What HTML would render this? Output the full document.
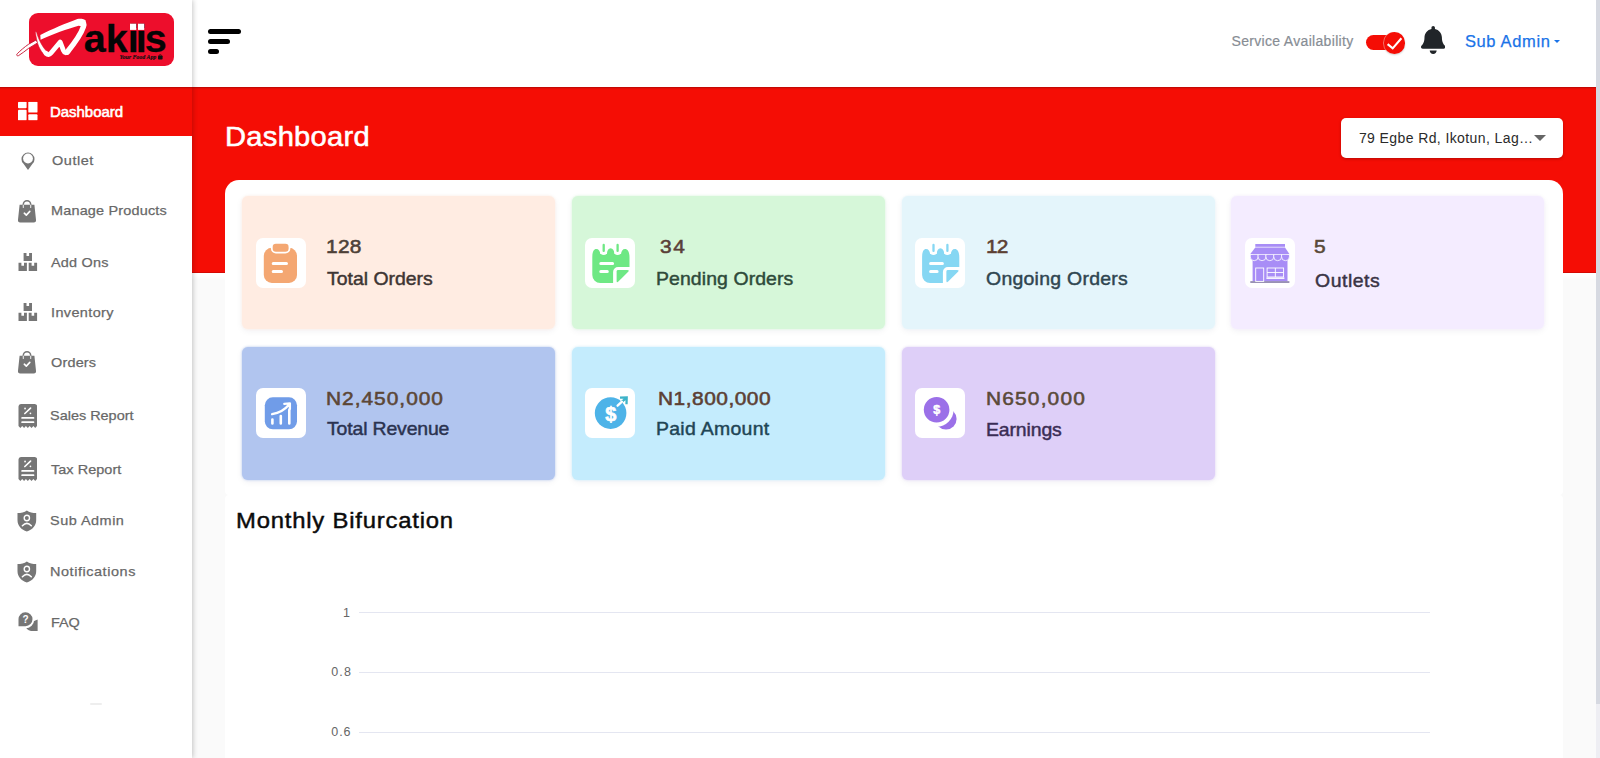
<!DOCTYPE html>
<html lang="en">
<head>
<meta charset="utf-8">
<title>Dashboard</title>
<style>
*{box-sizing:border-box;margin:0;padding:0}
html,body{width:1600px;height:758px;overflow:hidden;background:#fafafa;font-family:"Liberation Sans",sans-serif;color:#333}
#app{position:relative;width:1600px;height:758px;overflow:hidden}
.abs{position:absolute}
/* right scrollbar strip */
#sb{left:1596px;top:0;width:4px;height:758px;background:linear-gradient(#d6d9e1 0,#d6d9e1 704px,#eeeef3 704px)}
/* header */
#hdr{left:192px;top:0;width:1404px;height:87px;background:#fff}
/* red banner */
#red{left:192px;top:87px;width:1404px;height:186px;background:#f50d05;box-shadow:inset 0 -1px 0 rgba(120,0,0,.25),0 3px 3px 2px #fff}
/* sidebar */
#side{left:0;top:0;width:192px;height:758px;background:#fff;box-shadow:1px 0 5px rgba(0,0,0,.22)}
#logo{left:28.500px;top:12.500px;width:145px;height:53.500px;border-radius:9px;background:#ed0e2c}
.mi{position:absolute;left:0;width:192px;height:50px;color:#686868;font-size:14.5px}
.mi .t{position:absolute;font-size:13.500px;-webkit-text-stroke:.25px currentColor;transform-origin:0 50%;transform:scaleX(1.07)}
.mi svg{position:absolute;top:50%;transform:translateY(-50%)}
.mi.act{background:#f50d05;color:#fff;height:49px}
.mi.act .t{font-size:14px;-webkit-text-stroke:.55px #fff}
/* hamburger */
.bar{position:absolute;left:208px;height:5px;border-radius:3px;background:#000}
/* title */
#title{font-size:28px;color:#fff;-webkit-text-stroke:.55px #fff;transform-origin:0 50%;transform:scaleX(1.04)}
#sel{left:1341px;top:118px;width:222px;height:40px;background:#fff;border-radius:5px;box-shadow:0 1px 3px rgba(0,0,0,.25)}
#sel i{position:absolute;left:193px;top:17px;width:0;height:0;border-left:6px solid transparent;border-right:6px solid transparent;border-top:6px solid #666}
/* cards */
#stats{left:225px;top:180px;width:1338px;height:314.500px;background:#fff;border-radius:14px 14px 4px 4px}
#chart{left:225px;top:495px;width:1338px;height:270px;background:#fff;border-radius:4px}
.tile{position:absolute;width:313px;height:133px;border-radius:6px;box-shadow:0 2px 7px rgba(40,0,60,.06)}
.ic{width:50px;height:50px;border-radius:7px;background:#fff}
.ic svg{display:block}
#ct{font-size:22.500px;color:#0b0b0b;-webkit-text-stroke:.45px #0b0b0b;transform-origin:0 50%;transform:scaleX(1.06)}
.gl{position:absolute;left:359px;width:1070.500px;height:1px;background:#e4e6f1}
.yl{font-size:12.500px;color:#666}
.tx{white-space:nowrap;line-height:1;left:0;top:0}
#sa{font-size:14px;color:#878d94;-webkit-text-stroke:.2px #878d94}
#su{font-size:16.500px;color:#1a73e8;-webkit-text-stroke:.25px #1a73e8}
#selt{font-size:14px;color:#2a2a2a}
.n{font-size:19px;-webkit-text-stroke:.55px currentColor;transform-origin:0 50%;transform:scaleX(1.1)}
.l{font-size:18.500px;-webkit-text-stroke:.45px currentColor;transform-origin:0 50%;transform:scaleX(1.05)}
#n1{color:#4e4038}#l1{color:#3d3533}
#n2{color:#5a4038}#l2{color:#2e4a3a}
#n3{color:#5c4033}#l3{color:#2f4550}
#n4{color:#5a4a38}#l4{color:#3a3445}
#n5{color:#5c4736}#l5{color:#2b3350}
#n6{color:#5c4033}#l6{color:#1f4555}
#n7{color:#5a4a38}#l7{color:#3a2d55}
/*FIT*/
#sa{left:1231.6px;top:34.1px;letter-spacing:0.31px}
#su{left:1464.9px;top:32.6px;letter-spacing:0.65px}
#title{left:225.0px;top:123.4px;letter-spacing:0.27px}
#selt{left:1358.9px;top:131.2px;letter-spacing:0.40px}
#n1{left:326.0px;top:236.9px;letter-spacing:0.23px}
#l1{left:327.0px;top:270.3px;letter-spacing:0.00px}
#n2{left:659.6px;top:236.9px;letter-spacing:1.39px}
#l2{left:656.4px;top:270.4px;letter-spacing:0.09px}
#n3{left:986.0px;top:236.9px;letter-spacing:-0.71px}
#l3{left:986.2px;top:270.4px;letter-spacing:0.26px}
#n4{left:1314.4px;top:236.9px;letter-spacing:0.00px}
#l4{left:1315.1px;top:271.5px;letter-spacing:0.51px}
#n5{left:326.4px;top:388.9px;letter-spacing:0.90px}
#l5{left:327.0px;top:420.3px;letter-spacing:-0.14px}
#n6{left:658.4px;top:388.9px;letter-spacing:0.46px}
#l6{left:656.4px;top:420.4px;letter-spacing:0.29px}
#n7{left:986.4px;top:388.9px;letter-spacing:1.06px}
#l7{left:986.4px;top:420.6px;letter-spacing:-0.12px}
#ct{left:235.7px;top:510.3px;letter-spacing:0.75px}
#y1{left:343.0px;top:607.1px;letter-spacing:0.00px}
#y2{left:331.3px;top:666.2px;letter-spacing:1.09px}
#y3{left:331.3px;top:726.2px;letter-spacing:0.90px}
#m1{left:50.0px;top:17.7px;letter-spacing:-0.03px}
#m2{left:51.8px;top:17.8px;letter-spacing:0.53px}
#m3{left:51.0px;top:16.9px;letter-spacing:0.17px}
#m4{left:51.0px;top:18.7px;letter-spacing:0.18px}
#m5{left:51.0px;top:18.9px;letter-spacing:0.36px}
#m6{left:50.8px;top:17.9px;letter-spacing:0.17px}
#m7{left:50.0px;top:17.8px;letter-spacing:0.00px}
#m8{left:51.0px;top:18.8px;letter-spacing:0.05px}
#m9{left:50.0px;top:18.0px;letter-spacing:0.47px}
#m10{left:50.0px;top:17.9px;letter-spacing:0.52px}
#m11{left:51.0px;top:18.8px;letter-spacing:-0.03px}
/*ENDFIT*/
</style>
</head>
<body>
<div id="app">
  <div id="hdr" class="abs"></div>
  <div id="red" class="abs"></div>
  <div id="sb" class="abs"></div>
  <div class="abs" style="left:192px;top:80px;width:12px;height:7px;background:#fff"></div>

  <!-- header content -->
  <div class="bar" style="top:29px;width:33px"></div>
  <div class="bar" style="top:39px;width:22px"></div>
  <div class="bar" style="top:49px;width:11px"></div>

  <div id="sa" class="abs tx">Service Availability</div>
  <div class="abs" style="left:1365.500px;top:35.200px;width:36px;height:15px;border-radius:7.500px;background:#f50d05"></div>
  <div class="abs" style="left:1383.500px;top:32px;width:21.800px;height:22px;border-radius:50%;background:#f50d05;box-shadow:-1px 0 0 rgba(255,190,180,.55),0 1px 2px rgba(0,0,0,.2)">
    <svg width="22" height="22" viewBox="0 0 22 22" style="display:block"><path d="M3.600 12.100 L8.700 16.400 L17.400 6.300" fill="none" stroke="#fff" stroke-width="2.100" stroke-linecap="butt" stroke-linejoin="miter"/></svg>
  </div>
  <svg class="abs" style="left:1420.800px;top:25.800px" width="24.400" height="27.900" viewBox="0 0 448 512"><path d="M224 512c35.320 0 63.970-28.650 63.970-64H160.030c0 35.350 28.650 64 63.970 64zm215.390-149.710c-19.320-20.760-55.470-51.990-55.470-154.290 0-77.700-54.480-139.900-127.940-155.160V32c0-17.670-14.320-32-31.980-32s-31.980 14.330-31.980 32v20.840C118.560 68.100 64.080 130.300 64.080 208c0 102.300-36.150 133.530-55.470 154.290-6 6.450-8.660 14.160-8.610 21.710.110 16.400 12.980 32 32.100 32h383.800c19.120 0 32-15.600 32.100-32 .050-7.550-2.610-15.270-8.610-21.710z" fill="#212529"/></svg>
  <div id="su" class="abs tx">Sub Admin</div>
  <div class="abs caret" style="left:1553.500px;top:40px;width:0;height:0;border-left:3.500px solid transparent;border-right:3.500px solid transparent;border-top:3.800px solid #1a73e8"></div>

  <div id="title" class="abs tx">Dashboard</div>
  <div id="sel" class="abs"><i></i></div>
  <div id="selt" class="abs tx">79 Egbe Rd, Ikotun, Lag…</div>

  <div id="stats" class="abs"></div>
  <div id="chart" class="abs"></div>

  <!-- tiles -->
  <div class="tile" style="left:241.500px;top:196px;background:#ffece2;box-shadow:0 0 2.500px #ffece2,0 2px 7px rgba(40,0,60,.06)"></div><div class="ic abs" style="left:256px;top:238px"><svg width="50" height="50" viewBox="0.2 -0.4 50 50"><rect x="8" y="9.400" width="33.200" height="35.100" rx="8" fill="#f4a772"/><rect x="15.100" y="3.600" width="19.500" height="11.500" rx="5" fill="#fff"/><rect x="16.900" y="5.400" width="15.900" height="7.900" rx="3.200" fill="#f4a772"/><path d="M17.400 25.100 H30.700 M17.400 33.100 H25.700" stroke="#fff" stroke-width="3" stroke-linecap="round"/></svg></div>
  <div id="n1" class="abs tx n">128</div><div id="l1" class="abs tx l">Total Orders</div>
  <div class="tile" style="left:571.500px;top:196px;background:#d6f7d9;box-shadow:0 0 2.500px #d6f7d9,0 2px 7px rgba(40,0,60,.06)"></div><div class="ic abs" style="left:585px;top:238px"><svg width="50" height="50" viewBox="-0.4 -0.4 50 50"><path d="M6.900 19 C6.900 13.500 8.300 10.700 10.900 10.700 C13.300 10.700 14.600 12.800 14.900 15.500 L21.500 15.500 C21.800 12 23 9.900 25.200 9.900 C27.400 9.900 28.800 12 29.100 15.500 L35.600 15.500 C36 12.800 37.200 10.700 39.600 10.700 C42.300 10.700 44.100 13.500 44.100 19 V28.700 H32.700 A5 5 0 0 0 27.700 33.700 V44.600 H15 A8 8 0 0 1 6.900 36.500 Z" fill="#6ee884"/><path d="M32.700 31.600 H42 Q44.400 31.600 42.800 33.400 L33 43.200 Q31.200 44.800 31.200 42.500 V33 Q31.200 31.600 32.700 31.600z" fill="#6ee884"/><path d="M18.300 7 V13.300 M32.200 7 V13.300" stroke="#fff" stroke-width="6.600" stroke-linecap="round"/><path d="M18.300 6.600 V12.500 M32.200 6.600 V12.500" stroke="#6ee884" stroke-width="2.300" stroke-linecap="round"/><path d="M15.400 25.100 H27.200 M15.400 33.100 H21.900" stroke="#fff" stroke-width="3" stroke-linecap="round"/></svg></div>
  <div id="n2" class="abs tx n">34</div><div id="l2" class="abs tx l">Pending Orders</div>
  <div class="tile" style="left:901.500px;top:196px;background:#e4f5fb;box-shadow:0 0 2.500px #e4f5fb,0 2px 7px rgba(40,0,60,.06)"></div><div class="ic abs" style="left:915px;top:238px"><svg width="50" height="50" viewBox="-0.2 -0.4 50 50"><path d="M6.900 19 C6.900 13.500 8.300 10.700 10.900 10.700 C13.300 10.700 14.600 12.800 14.900 15.500 L21.500 15.500 C21.800 12 23 9.900 25.200 9.900 C27.400 9.900 28.800 12 29.100 15.500 L35.600 15.500 C36 12.800 37.200 10.700 39.600 10.700 C42.300 10.700 44.100 13.500 44.100 19 V28.700 H32.700 A5 5 0 0 0 27.700 33.700 V44.600 H15 A8 8 0 0 1 6.900 36.500 Z" fill="#86d7f3"/><path d="M32.700 31.600 H42 Q44.400 31.600 42.800 33.400 L33 43.200 Q31.200 44.800 31.200 42.500 V33 Q31.200 31.600 32.700 31.600z" fill="#86d7f3"/><path d="M18.300 7 V13.300 M32.200 7 V13.300" stroke="#fff" stroke-width="6.600" stroke-linecap="round"/><path d="M18.300 6.600 V12.500 M32.200 6.600 V12.500" stroke="#86d7f3" stroke-width="2.300" stroke-linecap="round"/><path d="M15.400 25.100 H27.200 M15.400 33.100 H21.900" stroke="#fff" stroke-width="3" stroke-linecap="round"/></svg></div>
  <div id="n3" class="abs tx n">12</div><div id="l3" class="abs tx l">Ongoing Orders</div>
  <div class="tile" style="left:1231px;top:196px;background:#f4ecff;box-shadow:0 0 2.500px #f4ecff,0 2px 7px rgba(40,0,60,.06)"></div><div class="ic abs" style="left:1245px;top:238px"><svg width="50" height="50" viewBox="0.1 -0.4 50 50"><rect x="10.400" y="5.600" width="29.700" height="2.800" fill="#a88df6"/><rect x="7.700" y="15" width="34.900" height="28" fill="#a88df6"/><path d="M5.40 16 h7.82 v2.400 a3.910 3.900 0 0 1 -7.820 0z" fill="#a88df6" stroke="#fff" stroke-width="0.800"/><path d="M13.22 16 h7.82 v2.400 a3.910 3.900 0 0 1 -7.820 0z" fill="#a88df6" stroke="#fff" stroke-width="0.800"/><path d="M21.04 16 h7.82 v2.400 a3.910 3.900 0 0 1 -7.820 0z" fill="#a88df6" stroke="#fff" stroke-width="0.800"/><path d="M28.86 16 h7.82 v2.400 a3.910 3.900 0 0 1 -7.820 0z" fill="#a88df6" stroke="#fff" stroke-width="0.800"/><path d="M36.68 16 h7.82 v2.400 a3.910 3.900 0 0 1 -7.820 0z" fill="#a88df6" stroke="#fff" stroke-width="0.800"/><path d="M10.400 9.200 H40.100 L44.500 15.600 H5.400z" fill="#a88df6"/><rect x="5.400" y="42.800" width="39.100" height="1.700" fill="#8e86ac"/><rect x="10.800" y="29.600" width="8" height="13.400" fill="none" stroke="#fff" stroke-width="0.900"/><rect x="22.200" y="29.600" width="16.500" height="9" fill="none" stroke="#fff" stroke-width="0.900"/><path d="M30.450 29.600 v9 M22.200 34.100 h16.500" stroke="#fff" stroke-width="0.900"/><path d="M21.500 39.800 h18" stroke="#fff" stroke-width="1.400"/></svg></div>
  <div id="n4" class="abs tx n">5</div><div id="l4" class="abs tx l">Outlets</div>
  <div class="tile" style="left:241.500px;top:347px;background:#b1c5ef;box-shadow:0 0 2.500px #b1c5ef,0 2px 7px rgba(40,0,60,.06)"></div><div class="ic abs" style="left:256px;top:388px"><svg width="50" height="50" viewBox="0.3 0.1 50 50"><rect x="9.100" y="9.400" width="32.200" height="32" rx="8" fill="#709ce8"/><path d="M16.700 31.600 V35.600 M25.100 28.200 V35.600 M33.600 22 V35.600" stroke="#fff" stroke-width="2.600" stroke-linecap="round"/><path d="M16.400 26.300 Q27 24.500 33.400 16.600 M28.600 15.900 L34.200 15.500 L34.200 21.200" fill="none" stroke="#fff" stroke-width="2.300" stroke-linecap="round" stroke-linejoin="round"/></svg></div>
  <div id="n5" class="abs tx n">N2,450,000</div><div id="l5" class="abs tx l">Total Revenue</div>
  <div class="tile" style="left:571.500px;top:347px;background:#c4ecfd;box-shadow:0 0 2.500px #c4ecfd,0 2px 7px rgba(40,0,60,.06)"></div><div class="ic abs" style="left:585px;top:388px"><svg width="50" height="50" viewBox="-0.4 0 50 50"><circle cx="25.200" cy="25.100" r="15.800" fill="#4db3e8"/><path d="M36 14.200 L41 9.800 M34.600 9.600 L41.300 9.400 L41.100 16.200" fill="none" stroke="#3db3c9" stroke-width="2.300" stroke-linecap="butt" stroke-linejoin="miter"/><path d="M32.200 17.700 L36.600 13.700" stroke="#fff" stroke-width="2.300" stroke-linecap="round"/><text x="25.300" y="32.500" text-anchor="middle" font-family="Liberation Sans, sans-serif" font-weight="bold" font-size="20" fill="#fff" stroke="#fff" stroke-width="0.600">$</text></svg></div>
  <div id="n6" class="abs tx n">N1,800,000</div><div id="l6" class="abs tx l">Paid Amount</div>
  <div class="tile" style="left:901.500px;top:347px;background:#decff8;box-shadow:0 0 2.500px #decff8,0 2px 7px rgba(40,0,60,.06)"></div><div class="ic abs" style="left:915px;top:388px"><svg width="50" height="50" viewBox="0 0 50 50"><circle cx="31" cy="31" r="10.600" fill="#9b70e8"/><circle cx="21.600" cy="21.800" r="17" fill="#fff"/><circle cx="21.600" cy="21.800" r="12.800" fill="#9b70e8"/><text x="21.700" y="26.200" text-anchor="middle" font-family="Liberation Sans, sans-serif" font-weight="bold" font-size="12.500" fill="#fff" stroke="#fff" stroke-width="0.500">$</text></svg></div>
  <div id="n7" class="abs tx n">N650,000</div><div id="l7" class="abs tx l">Earnings</div>

  <!-- chart -->
  <div id="ct" class="abs tx">Monthly Bifurcation</div>
  <div class="gl" style="top:612px"></div>
  <div class="gl" style="top:672px"></div>
  <div class="gl" style="top:732px"></div>
  <div id="y1" class="abs tx yl">1</div>
  <div id="y2" class="abs tx yl">0.8</div>
  <div id="y3" class="abs tx yl">0.6</div>

  <!-- sidebar -->
  <div id="side" class="abs">
    <div id="logo" class="abs"></div>
    <svg class="abs" style="left:0;top:0" width="192" height="87" viewBox="0 0 192 87">
      <path d="M36.200 39.900 L28.500 44.300 C24.500 47 20.500 50.500 17.300 53.700 C16 55 17 56.300 18.600 55.600 C22 53.600 25.500 50.600 28.500 48.400 L37.600 42.900 Z" fill="#fff" stroke="#c4102c" stroke-width="0.900"/>
      <path d="M85.900 20.800 C84 18.700 80 18.500 77.400 19.100 C66 23.200 52 29.300 40.300 35 L40.600 39.800 C52 34.300 68 28.800 78.600 25.800 L83.200 26.600 Z" fill="#fff"/>
      <path d="M35.300 31.700 L36.500 32.100 C37.200 35 38.800 39.500 41.200 43.700 C42.800 46.500 45 49.800 47.600 52.300 L45.200 55.700 C42.600 53.300 40.300 50 38.700 46.300 C37.300 43 36.200 37.300 35.300 31.700 Z" fill="#fff" stroke="#d90f2a" stroke-width="0.500"/>
      <path d="M46 53.300 Q48.700 56 51.200 52.800 L60.200 42 L63.300 50.200 Q65.300 54.700 68.200 51.200" fill="none" stroke="#fff" stroke-width="4.800" stroke-linecap="round" stroke-linejoin="round"/>
      <path d="M67.300 52 C73 45 81.300 33 83.300 27 C84.400 23.600 83.600 22 81 22.400" fill="none" stroke="#fff" stroke-width="5.500" stroke-linecap="round"/>
      <text x="83.700 105.800 127.800 135.700 144.700" y="52.300" font-family="Liberation Sans, sans-serif" font-weight="bold" font-size="39.500" fill="#050505" stroke="#050505" stroke-width="0.300">akiis</text><rect x="130" y="23.700" width="6.200" height="6.200" fill="#fff"/><rect x="138" y="23.700" width="6.200" height="6.200" fill="#fff"/>
      <text x="119.500" y="59.300" font-family="Liberation Serif, serif" font-weight="bold" font-style="italic" font-size="5.900" fill="#111" stroke="#111" stroke-width="0.150">Your Food App</text>
      <rect x="158" y="55.500" width="4.600" height="4" rx="0.800" fill="#111"/>
      <path d="M159.200 55.600 a1.100 1.100 0 0 1 2.200 0" fill="none" stroke="#111" stroke-width="0.600"/>
    </svg>
    <div class="mi act" style="top:87px"><svg viewBox="0 0 19.500 18.600" style="width:19.500px;height:18.600px;left:18px;margin-top:-.5px"><rect x="0" y="0" width="8.600" height="6.500" rx="0.900" fill="#fff"/><rect x="0" y="8.100" width="8.600" height="10.500" rx="0.900" fill="#fff"/><rect x="10.300" y="0" width="9.200" height="10.900" rx="0.900" fill="#fff"/><rect x="10.300" y="12.600" width="9.200" height="6" rx="0.900" fill="#fff"/></svg><span id="m1" class="t tx">Dashboard</span></div>
    <div class="mi" style="top:136px"><svg viewBox="0 0 16 20" style="width:16px;height:20px;left:19.500px"><path d="M8 19 L3.300 12.600 A6.500 6.500 0 1 1 12.700 12.600 Z" fill="#767676"/><circle cx="8" cy="7.500" r="4.900" fill="#fff"/></svg><span id="m2" class="t tx">Outlet</span></div>
    <div class="mi" style="top:187px"><svg viewBox="0 0 20 24" style="width:20px;height:24px;left:17px;margin-top:-1px"><path d="M6.300 8 V5.500 a3.700 3.700 0 0 1 7.400 0 V8" fill="none" stroke="#767676" stroke-width="1.500"/><path d="M2.600 5.800 H17.400 L19 20.800 a2.300 2.300 0 0 1 -2.300 2.600 H3.300 A2.300 2.300 0 0 1 1 20.800 Z" fill="#767676"/><path d="M6.300 6 V8.500 M13.700 6 V8.500" stroke="#fff" stroke-width="1.100" stroke-linecap="round" opacity=".85"/><path d="M7.300 14.200 l2 1.900 3.500-3.700" fill="none" stroke="#fff" stroke-width="1.600" stroke-linecap="round" stroke-linejoin="round"/></svg><span id="m3" class="t tx">Manage Products</span></div>
    <div class="mi" style="top:237px"><svg viewBox="0 0 20 19.700" preserveAspectRatio="none" style="width:20px;height:18.800px;left:17.600px"><path d="M5.600 0.500 h2.900 v3 h2.600 v-3 h2.900 v8.300 h-8.400z M0.500 10.700 h2.900 v3 h2.600 v-3 h2.900 v8.500 h-8.400z M10.700 10.700 h2.900 v3 h2.600 v-3 h2.900 v8.500 h-8.400z" fill="#767676"/></svg><span id="m4" class="t tx">Add Ons</span></div>
    <div class="mi" style="top:287px"><svg viewBox="0 0 20 19.700" preserveAspectRatio="none" style="width:20px;height:18.800px;left:17.600px"><path d="M5.600 0.500 h2.900 v3 h2.600 v-3 h2.900 v8.300 h-8.400z M0.500 10.700 h2.900 v3 h2.600 v-3 h2.900 v8.500 h-8.400z M10.700 10.700 h2.900 v3 h2.600 v-3 h2.900 v8.500 h-8.400z" fill="#767676"/></svg><span id="m5" class="t tx">Inventory</span></div>
    <div class="mi" style="top:338px"><svg viewBox="0 0 20 24" style="width:20px;height:24px;left:17px;margin-top:-1px"><path d="M6.300 8 V5.500 a3.700 3.700 0 0 1 7.400 0 V8" fill="none" stroke="#767676" stroke-width="1.500"/><path d="M2.600 5.800 H17.400 L19 20.800 a2.300 2.300 0 0 1 -2.300 2.600 H3.300 A2.300 2.300 0 0 1 1 20.800 Z" fill="#767676"/><path d="M6.300 6 V8.500 M13.700 6 V8.500" stroke="#fff" stroke-width="1.100" stroke-linecap="round" opacity=".85"/><path d="M7.300 14.200 l2 1.900 3.500-3.700" fill="none" stroke="#fff" stroke-width="1.600" stroke-linecap="round" stroke-linejoin="round"/></svg><span id="m6" class="t tx">Orders</span></div>
    <div class="mi" style="top:391px"><svg viewBox="0 0 20 25" preserveAspectRatio="none" style="width:19.600px;height:25px;left:17.500px"><path d="M0.500 3 a2.500 2.500 0 0 1 2.500 -2.500 h14 a2.500 2.500 0 0 1 2.500 2.500 V22.500 l-1.900 1.900 -1.900 -1.900 -1.900 1.900 -1.900 -1.900 -1.900 1.900 -1.900 -1.900 -1.900 1.900 -1.900 -1.900 -1.900 1.900 -1.900 -1.900z" fill="#767676"/><path d="M7 10 l5.800 -5.400" stroke="#fff" stroke-width="1.700" stroke-linecap="round"/><circle cx="7.200" cy="5" r="0.900" fill="#fff"/><circle cx="12.700" cy="9.800" r="0.900" fill="#fff"/><path d="M4.200 14.400 h11.600 M4.200 18.700 h11.600" stroke="#fff" stroke-width="1.800" stroke-linecap="round"/></svg><span id="m7" class="t tx">Sales Report</span></div>
    <div class="mi" style="top:444px"><svg viewBox="0 0 20 25" preserveAspectRatio="none" style="width:19.600px;height:25px;left:17.500px"><path d="M0.500 3 a2.500 2.500 0 0 1 2.500 -2.500 h14 a2.500 2.500 0 0 1 2.500 2.500 V22.500 l-1.900 1.900 -1.900 -1.900 -1.900 1.900 -1.900 -1.900 -1.900 1.900 -1.900 -1.900 -1.900 1.900 -1.900 -1.900 -1.900 1.900 -1.900 -1.900z" fill="#767676"/><path d="M7 10 l5.800 -5.400" stroke="#fff" stroke-width="1.700" stroke-linecap="round"/><circle cx="7.200" cy="5" r="0.900" fill="#fff"/><circle cx="12.700" cy="9.800" r="0.900" fill="#fff"/><path d="M4.200 14.400 h11.600 M4.200 18.700 h11.600" stroke="#fff" stroke-width="1.800" stroke-linecap="round"/></svg><span id="m8" class="t tx">Tax Report</span></div>
    <div class="mi" style="top:496px"><svg viewBox="0 0 20 22" preserveAspectRatio="none" style="width:19.700px;height:22px;left:17.400px;margin-top:-.4px"><path d="M10 0.400 C12.500 2.200 16 3 19.500 3 V10 C19.500 16 15.500 19.800 10 21.600 C4.500 19.800 0.500 16 0.500 10 V3 C4 3 7.500 2.200 10 0.400z" fill="#767676"/><circle cx="10" cy="8" r="2.700" fill="none" stroke="#fff" stroke-width="1.400"/><path d="M5.500 15.700 Q10 11 14.500 15.700" fill="none" stroke="#fff" stroke-width="1.600" stroke-linecap="round"/></svg><span id="m9" class="t tx">Sub Admin</span></div>
    <div class="mi" style="top:547px"><svg viewBox="0 0 20 22" preserveAspectRatio="none" style="width:19.700px;height:22px;left:17.400px;margin-top:-.4px"><path d="M10 0.400 C12.500 2.200 16 3 19.500 3 V10 C19.500 16 15.500 19.800 10 21.600 C4.500 19.800 0.500 16 0.500 10 V3 C4 3 7.500 2.200 10 0.400z" fill="#767676"/><circle cx="10" cy="8" r="2.700" fill="none" stroke="#fff" stroke-width="1.400"/><path d="M5.500 15.700 Q10 11 14.500 15.700" fill="none" stroke="#fff" stroke-width="1.600" stroke-linecap="round"/></svg><span id="m10" class="t tx">Notifications</span></div>
    <div class="mi" style="top:597px"><svg viewBox="0 0 20 20" style="width:20px;height:20px;left:17.500px"><path d="M19.600 7.500 V19 H13 A7.500 7.500 0 0 1 7 13 Z" fill="#767676"/><circle cx="7.500" cy="7.500" r="8.700" fill="#fff"/><path d="M0.500 14.200 V7.500 a7 7 0 1 1 7 6.700z" fill="#767676"/><text x="7.600" y="11.300" text-anchor="middle" font-family="Liberation Sans, sans-serif" font-weight="bold" font-size="10" fill="#fff">?</text></svg><span id="m11" class="t tx">FAQ</span></div>
    <div class="abs" style="left:90px;top:703px;width:12px;height:1.500px;border-radius:1px;background:#eeeeee"></div>
  </div>
  <div class="abs" style="left:0;top:87px;width:1596px;height:3px;background:linear-gradient(rgba(90,0,0,.42),rgba(90,0,0,.12) 45%,rgba(0,0,0,0))"></div>
</div>
</body>
</html>
